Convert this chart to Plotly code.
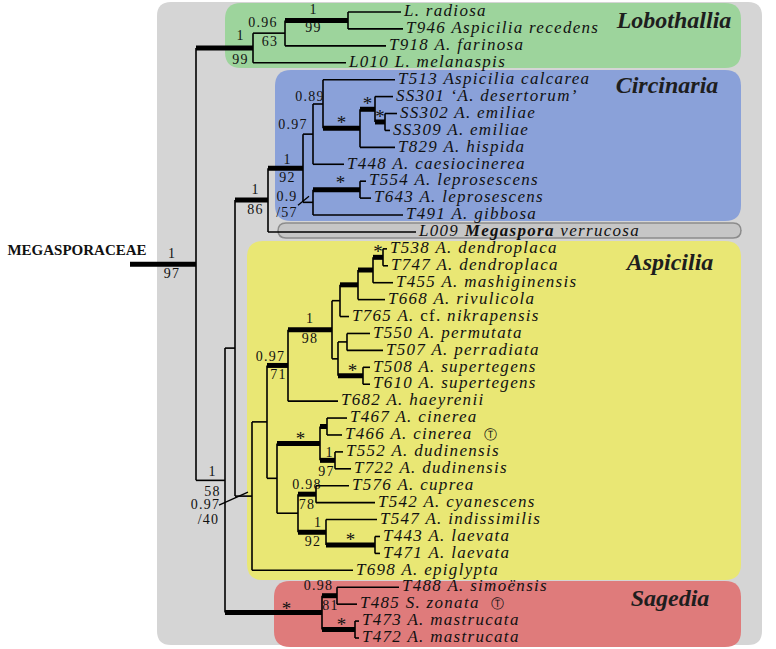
import plotly.graph_objects as go

# ------------------------------------------------------------------ data
taxa = [
    "L. radiosa", "T946 Aspicilia recedens", "T918 A. farinosa", "L010 L. melanaspis",
    "T513 Aspicilia calcarea", "SS301 \u2018A. desertorum\u2019", "SS302 A. emiliae", "SS309 A. emiliae",
    "T829 A. hispida", "T448 A. caesiocinerea", "T554 A. leprosescens", "T643 A. leprosescens",
    "T491 A. gibbosa", "L009 Megaspora verrucosa",
    "T538 A. dendroplaca", "T747 A. dendroplaca", "T455 A. mashiginensis", "T668 A. rivulicola",
    "T765 A. cf. nikrapensis", "T550 A. permutata", "T507 A. perradiata", "T508 A. supertegens",
    "T610 A. supertegens", "T682 A. haeyrenii", "T467 A. cinerea", "T466 A. cinerea \u24c9",
    "T552 A. dudinensis", "T722 A. dudinensis", "T576 A. cuprea", "T542 A. cyanescens",
    "T547 A. indissimilis", "T443 A. laevata", "T471 A. laevata", "T698 A. epiglypta",
    "T488 A. simo\u00ebnsis", "T485 S. zonata \u24c9", "T473 A. mastrucata", "T472 A. mastrucata",
]
# tip depth of each terminal branch (tree units)
taxon_tip = [401, 403, 386, 346,
             395, 393, 397, 390, 395, 344, 366, 371, 403, 416,
             387, 388, 393, 385, 349, 370, 383, 370, 370, 338, 347, 342,
             343, 351, 349, 375, 377, 380, 380, 353,
             399, 357, 359, 359]
taxon_parent = ["n348", "n348", "n285", "n253",
                "n323", "n375", "n385", "n385", "n360", "n313a", "n360b", "n360b", "n313b", "n268",
                "n383", "n383", "n373", "n358", "n340", "n347", "n347", "n363", "n363", "n288",
                "n327", "n327", "n335", "n335", "n316", "n316", "n326", "n375b", "n375b", "n252",
                "n337", "n337", "n355", "n355"]

node_names = ["root", "n253", "n285", "n348", "n225", "n235", "n268", "n303", "n313a", "n323",
              "n360", "n375", "n385", "n313b", "n360b", "n252", "n267", "n288", "n332", "n340",
              "n358", "n373", "n383", "n338", "n347", "n363", "n277", "n320", "n327", "n335",
              "n298", "n316", "n326", "n375b", "n322", "n337", "n355"]
node_parent = [None, "root", "n253", "n285", "root", "n225", "n235", "n268", "n303", "n313a",
               "n323", "n360", "n375", "n303", "n313b", "n235", "n252", "n267", "n288", "n332",
               "n340", "n358", "n373", "n332", "n338", "n338", "n267", "n277", "n320", "n320",
               "n277", "n298", "n298", "n326", "n225", "n322", "n322"]
node_depth = [196, 253, 285, 348, 225, 235, 268, 303, 313, 323,
              360, 375, 385, 313, 360, 252, 267, 288, 332, 340,
              358, 373, 383, 338, 347, 363, 277, 320, 327, 335,
              298, 316, 326, 375, 322, 337, 355]
node_pp = ["1", "1", "0.96", "1", "1", "", "1", "1", "0.97", "0.89",
           "*", "*", "*", "0.9", "*", "0.97", "", "0.97", "1", "",
           "", "", "*", "", "", "*", "", "*", "", "1",
           "", "0.98", "1", "*", "*", "0.98", "*"]
node_bs = ["97", "99", "63", "99", "58", "", "86", "92", "", "",
           "", "", "", "/57", "", "/40", "", "71", "98", "",
           "", "", "", "", "", "", "", "", "", "97",
           "", "78", "92", "", "", "81", ""]
node_strong = [1, 1, 0, 1, 0, 0, 1, 1, 0, 0,
               1, 1, 1, 0, 1, 0, 0, 1, 1, 0,
               1, 1, 1, 0, 0, 1, 0, 1, 1, 1,
               0, 1, 1, 1, 1, 1, 1]
root_stem_from = 130

family_label = "MEGASPORACEAE"
clade_names = ["Lobothallia", "Circinaria", "Aspicilia", "Sagedia"]

# ------------------------------------------------------------------ layout constants (pixels)
W, H = 776, 649
FIRST_ROW_PX, LAST_ROW_PX = 12, 638
SP = (LAST_ROW_PX - FIRST_ROW_PX) / (len(taxa) - 1)


def yi(py):
    return (py - FIRST_ROW_PX) / SP


label_nudge = {  # dx_top, dy_top, dx_bottom, dy_bottom (px)
    "root": (9, -10, 9, 10), "n253": (16, -11, 16, 13), "n285": (-6, -10, 1, 9),
    "n348": (-3, -10, -3, 8), "n225": (2, -8, 2, 12), "n268": (4, -10, 4, 10),
    "n303": (2, -8, 2, 10), "n313a": (-15, -9, 0, 0), "n323": (-8, -7, 0, 0),
    "n313b": (-21, -5, -21, 11), "n360b": (4, -10, 0, 0), "n252": (-38, 9, -35, 24),
    "n288": (-7, -8, 1, 10), "n332": (0, -10, 0, 10), "n363": (2, -9, 0, 0),
    "n320": (2, -8, 0, 0), "n335": (2, -7, -1, 12), "n316": (0, -9, 0, 11),
    "n326": (6, -9, 1, 10), "n322": (13, -7, 0, 0), "n337": (-11, -9, 1, 11),
    "n355": (3, -8, 0, 0),
}
pointer_ticks = {"n313b": (-5, 3, 6, -6), "n252": (-16, 9, 13, -4)}

boxes = [  # x0, y0, x1, y1, radius, fill, line
    (157, 2, 762, 645, 14, "#d5d5d5", None),
    (225, 3, 741, 68, 16, "#9dd49c", None),
    (275, 70, 741, 221, 16, "#8aa1d9", None),
    (278, 223, 741, 238, 8, "#c6c6c6", "#8c8c8c"),
    (247, 241, 741, 580, 16, "#e9e774", None),
    (274, 581, 741, 647, 16, "#df7b7b", None),
]
clade_pos = [(674, 22), (667, 87), (670, 264), (670, 600)]

# ------------------------------------------------------------------ tree geometry
depth = dict(zip(node_names, node_depth))
kids = {n: [] for n in node_names}
for i, p in enumerate(taxon_parent):
    kids[p].append(("t", i))
for n, p in zip(node_names, node_parent):
    if p is not None:
        kids[p].append(("n", n))
ypos = {}


def gety(kind, key):
    if kind == "t":
        return float(key)
    if key not in ypos:
        ys = [gety(k, c) for k, c in kids[key]]
        ypos[key] = (min(ys) + max(ys)) / 2
    return ypos[key]


for n in node_names:
    gety("n", n)

thin_x, thin_y, thick_x, thick_y, tick_x, tick_y = [], [], [], [], [], []


def seg(xs, ys, x0, y0, x1, y1):
    xs += [x0, x1, None]
    ys += [y0, y1, None]


for n, p, s in zip(node_names, node_parent, node_strong):
    x0 = root_stem_from if p is None else depth[p]
    if s:
        seg(thick_x, thick_y, x0, ypos[n], depth[n], ypos[n])
    else:
        seg(thin_x, thin_y, x0, ypos[n], depth[n], ypos[n])
for i, (tip, p) in enumerate(zip(taxon_tip, taxon_parent)):
    seg(thin_x, thin_y, depth[p], i, tip, i)
for n in node_names:
    ys = [gety(k, c) for k, c in kids[n]]
    seg(thin_x, thin_y, depth[n], min(ys), depth[n], max(ys))
for n, (ax, ay, bx, by) in pointer_ticks.items():
    p = node_parent[node_names.index(n)]
    seg(tick_x, tick_y, depth[p] + ax, ypos[n] + ay / SP, depth[p] + bx, ypos[n] + by / SP)

# support labels
num_x, num_y, num_t, star_x, star_y = [], [], [], [], []
for n, p, pp, bs in zip(node_names, node_parent, node_pp, node_bs):
    x0 = root_stem_from if p is None else depth[p]
    mid = (x0 + depth[n]) / 2
    dxt, dyt, dxb, dyb = label_nudge.get(n, (0, -9, 0, 11))
    for txt, dx, dy in ((pp, dxt, dyt), (bs, dxb, dyb)):
        if not txt:
            continue
        if txt == "*":
            star_x.append(mid + dx)
            star_y.append(ypos[n] + (dy + 5) / SP)
        else:
            num_x.append(mid + dx)
            num_y.append(ypos[n] + dy / SP)
            num_t.append("<span style='letter-spacing:1.2px'>" + txt + "</span>")


def fmt_taxon(name):
    sym = ""
    if name.endswith(" \u24c9"):
        name = name[:-2]
        sym = "\u00a0\u00a0<span style='font-size:13px'>\u24c9</span>"
    s = "<i>" + name + "</i>"
    s = s.replace("cf. ", "</i>cf.<i> ")
    s = s.replace("Megaspora", "<b>Megaspora</b>")
    return "<span style='letter-spacing:1.3px'>" + s + sym + "</span>"


SERIF = "Liberation Serif, Times New Roman, serif"
fig = go.Figure()


def rrect(x0, y0, x1, y1, r):
    a, b = yi(y0), yi(y1)
    ry = r / SP
    return (f"M {x0 + r},{a} L {x1 - r},{a} Q {x1},{a} {x1},{a + ry} "
            f"L {x1},{b - ry} Q {x1},{b} {x1 - r},{b} L {x0 + r},{b} "
            f"Q {x0},{b} {x0},{b - ry} L {x0},{a + ry} Q {x0},{a} {x0 + r},{a} Z")


shapes = []
for x0, y0, x1, y1, r, fill, line in boxes:
    shapes.append(dict(type="path", path=rrect(x0, y0, x1, y1, r), xref="x", yref="y",
                       fillcolor=fill, layer="below",
                       line=dict(color=line or fill, width=1.5 if line else 0)))

common = dict(hoverinfo="skip", cliponaxis=False)
fig.add_trace(go.Scatter(x=thin_x, y=thin_y, mode="lines", line=dict(color="black", width=1.6), **common))
fig.add_trace(go.Scatter(x=tick_x, y=tick_y, mode="lines", line=dict(color="black", width=1.3), **common))
fig.add_trace(go.Scatter(x=thick_x, y=thick_y, mode="lines", line=dict(color="black", width=5), **common))
fig.add_trace(go.Scatter(x=[t + 3 for t in taxon_tip], y=list(range(len(taxa))), mode="text",
                         text=[fmt_taxon(t) for t in taxa], textposition="middle right",
                         textfont=dict(family=SERIF, size=17, color="#111111"), **common))
fig.add_trace(go.Scatter(x=num_x, y=num_y, mode="text", text=num_t, textposition="middle center",
                         textfont=dict(family=SERIF, size=14, color="#111111"), **common))
fig.add_trace(go.Scatter(x=star_x, y=star_y, mode="text", text=["*"] * len(star_x),
                         textposition="middle center",
                         textfont=dict(family=SERIF, size=19, color="#111111"), **common))
fig.add_trace(go.Scatter(x=[p[0] for p in clade_pos], y=[yi(p[1]) for p in clade_pos], mode="text",
                         text=["<b><i>" + c + "</i></b>" for c in clade_names],
                         textposition="middle center",
                         textfont=dict(family=SERIF, size=24, color="#1e1e1e"), **common))
fig.add_trace(go.Scatter(x=[77], y=[yi(251)], mode="text", text=["<b>" + family_label + "</b>"],
                         textposition="middle center",
                         textfont=dict(family=SERIF, size=15, color="#111111"), **common))

fig.update_layout(
    width=W, height=H, margin=dict(l=0, r=0, t=0, b=0, pad=0),
    paper_bgcolor="white", plot_bgcolor="white", showlegend=False, shapes=shapes,
    xaxis=dict(range=[0, W], visible=False, fixedrange=True),
    yaxis=dict(range=[yi(H), yi(0)], visible=False, fixedrange=True),
)
# remove the page's default body margin so the figure sits at the window's corner
fig.write_html("out.html", config=dict(displayModeBar=False),
               post_script="document.body.style.margin='0';document.body.style.overflow='hidden';")
